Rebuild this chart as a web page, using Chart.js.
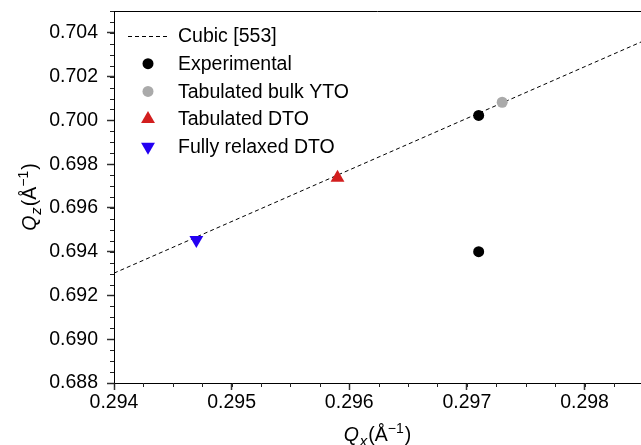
<!DOCTYPE html>
<html>
<head>
<meta charset="utf-8">
<script src="https://cdn.jsdelivr.net/npm/chart.js@4.4.1/dist/chart.umd.min.js"></script>
<style>
  html, body { margin: 0; padding: 0; background: #ffffff; overflow: hidden; }
  #wrap { width: 641px; height: 445px; }
</style>
</head>
<body>
<div id="wrap"><canvas id="c" width="641" height="445"></canvas></div>
<script>
// Reciprocal-space positions (Qx, Qz) in inverse angstrom
const seriesNames = ['Cubic [553]', 'Experimental', 'Tabulated bulk YTO', 'Tabulated DTO', 'Fully relaxed DTO'];
const cubicQx = [0.2940, 0.2985];
const cubicQz = [0.69302, 0.70363];
const experimentalQx = [0.2971, 0.2971];
const experimentalQz = [0.70023, 0.69400];
const bulkYtoQx = [0.2973];
const bulkYtoQz = [0.70083];
const tabulatedDtoQx = [0.2959];
const tabulatedDtoQz = [0.69738];
const relaxedDtoQx = [0.2947];
const relaxedDtoQz = [0.69454];

// Axis ticks
const xMajorTicks = [0.294, 0.295, 0.296, 0.297, 0.298];
const yMajorTicks = [0.688, 0.690, 0.692, 0.694, 0.696, 0.698, 0.700, 0.702, 0.704];
const xRange = [0.294, 0.29848];
const yRange = [0.688, 0.705];
const xMinorStep = 0.00025;
const yMinorStep = 0.0005;

const FONT = '"Liberation Sans", Arial, Helvetica, sans-serif';
const FS = 19.5;

const pts = (xs, ys) => xs.map((x, i) => ({ x: x, y: ys[i] }));

const datasets = [
  { type: 'line', label: seriesNames[0], data: pts(cubicQx, cubicQz), borderColor: '#000000',
    borderWidth: 1, borderDash: [4, 3], pointRadius: 0, fill: false, order: 5 },
  { label: seriesNames[1], data: pts(experimentalQx, experimentalQz), pointStyle: 'circle',
    pointRadius: 5.5, backgroundColor: '#000000', borderWidth: 0, order: 1 },
  { label: seriesNames[2], data: pts(bulkYtoQx, bulkYtoQz), pointStyle: 'circle',
    pointRadius: 5.5, backgroundColor: '#aaaaaa', borderWidth: 0, order: 2 },
  { label: seriesNames[3], data: pts(tabulatedDtoQx, tabulatedDtoQz), pointStyle: 'triangle',
    pointRadius: 8, backgroundColor: '#d21e1e', borderWidth: 0, order: 3 },
  { label: seriesNames[4], data: pts(relaxedDtoQx, relaxedDtoQz), pointStyle: 'triangle',
    pointRotation: 180, pointRadius: 8, backgroundColor: '#2300f2', borderWidth: 0, order: 4 }
];

// Minor ticks outside the left and bottom axes, plus the top frame line
const frameTicks = {
  id: 'frameTicks',
  afterDraw(chart) {
    const ctx = chart.ctx, a = chart.chartArea;
    const xs = chart.scales.x, ys = chart.scales.y;
    ctx.save();
    ctx.strokeStyle = '#222222';
    ctx.lineWidth = 1;
    ctx.beginPath();
    for (let v = xRange[0]; v <= xRange[1] + 1e-9; v += xMinorStep) {
      const px = Math.round(xs.getPixelForValue(v)) + 0.5;
      ctx.moveTo(px, a.bottom);
      ctx.lineTo(px, a.bottom + 4);
    }
    for (let v = yRange[0]; v <= yRange[1] + 1e-9; v += yMinorStep) {
      const py = Math.round(ys.getPixelForValue(v)) + 0.5;
      ctx.moveTo(a.left - 4, py);
      ctx.lineTo(a.left, py);
    }
    ctx.stroke();
    ctx.strokeStyle = '#000000';
    ctx.beginPath();
    ctx.moveTo(a.left, a.top + 0.5);
    ctx.lineTo(a.right, a.top + 0.5);
    ctx.stroke();
    ctx.restore();
  }
};

// Draws a run of text pieces (italic, sub/superscript) starting at x
function richText(ctx, parts, x, y, center) {
  const fontOf = p => (p.italic ? 'italic ' : '') + (p.size || FS) + 'px ' + FONT;
  let total = 0;
  parts.forEach(p => { ctx.font = fontOf(p); total += ctx.measureText(p.text).width + (p.gap || 0); });
  let cx = center ? x - total / 2 : x;
  parts.forEach(p => {
    ctx.font = fontOf(p);
    ctx.fillText(p.text, cx, y + (p.dy || 0));
    cx += ctx.measureText(p.text).width + (p.gap || 0);
  });
}

const titleParts = sub => [
  { text: 'Q', italic: true, gap: 1 },
  { text: sub, italic: true, size: 15, dy: 5, gap: 1 },
  { text: '(Å' },
  { text: '−1', size: 14, dy: -8, gap: 1 },
  { text: ')' }
];

const axisTitles = {
  id: 'axisTitles',
  afterDraw(chart) {
    const ctx = chart.ctx, a = chart.chartArea;
    ctx.save();
    ctx.fillStyle = '#000000';
    ctx.textBaseline = 'alphabetic';
    ctx.textAlign = 'left';
    richText(ctx, titleParts('x'), (a.left + a.right) / 2, 441, true);
    ctx.translate(36, (a.top + a.bottom) / 2);
    ctx.rotate(-Math.PI / 2);
    richText(ctx, titleParts('z'), 0, 0, true);
    ctx.restore();
  }
};

// Legend in the upper-left corner of the plot area
const cornerLegend = {
  id: 'cornerLegend',
  afterDraw(chart) {
    const ctx = chart.ctx;
    const markX = 148, textX = 178, y0 = 36, dy = 27.7;
    ctx.save();
    ctx.textBaseline = 'middle';
    ctx.textAlign = 'left';
    ctx.font = FS + 'px ' + FONT;
    chart.data.datasets.forEach((ds, i) => {
      const y = y0 + i * dy;
      if (ds.type === 'line') {
        ctx.save();
        ctx.strokeStyle = ds.borderColor;
        ctx.lineWidth = ds.borderWidth;
        ctx.setLineDash(ds.borderDash);
        ctx.beginPath();
        ctx.moveTo(128, Math.round(y) + 0.5);
        ctx.lineTo(168, Math.round(y) + 0.5);
        ctx.stroke();
        ctx.restore();
      } else {
        ctx.fillStyle = ds.backgroundColor;
        ctx.strokeStyle = ds.backgroundColor;
        Chart.helpers.drawPoint(ctx, {
          pointStyle: ds.pointStyle, rotation: ds.pointRotation || 0,
          radius: ds.pointRadius, borderWidth: 0
        }, markX, y);
      }
      ctx.fillStyle = '#000000';
      ctx.fillText(ds.label, textX, y + 1);
    });
    ctx.restore();
  }
};

const tickFont = { family: FONT, size: FS };

new Chart(document.getElementById('c'), {
  type: 'scatter',
  data: { datasets: datasets },
  options: {
    responsive: false,
    animation: false,
    devicePixelRatio: 1,
    layout: { autoPadding: false, padding: { top: 11, right: 0, left: 0, bottom: 0 } },
    plugins: { legend: { display: false }, tooltip: { enabled: false } },
    scales: {
      x: {
        type: 'linear', min: xRange[0], max: xRange[1],
        afterBuildTicks: s => { s.ticks = xMajorTicks.map(v => ({ value: v })); },
        afterFit: s => { s.height = 62; s.paddingLeft = 0; s.paddingRight = 0; },
        ticks: { callback: v => v.toFixed(3), font: tickFont, color: '#000000',
                 padding: 1, maxRotation: 0, autoSkip: false },
        grid: { drawOnChartArea: false, drawTicks: true, tickLength: 7, tickWidth: 1.5, tickColor: '#333333' },
        border: { display: true, color: '#000000', width: 1 }
      },
      y: {
        type: 'linear', min: yRange[0], max: yRange[1],
        afterBuildTicks: s => { s.ticks = yMajorTicks.map(v => ({ value: v })); },
        afterFit: s => { s.width = 114; s.paddingTop = 0; s.paddingBottom = 0; },
        ticks: { callback: v => v.toFixed(3), font: tickFont, color: '#000000',
                 padding: 9, autoSkip: false },
        grid: { drawOnChartArea: false, drawTicks: true, tickLength: 7, tickWidth: 1.5, tickColor: '#333333' },
        border: { display: true, color: '#000000', width: 1 }
      }
    }
  },
  plugins: [frameTicks, axisTitles, cornerLegend]
});
</script>
</body>
</html>
